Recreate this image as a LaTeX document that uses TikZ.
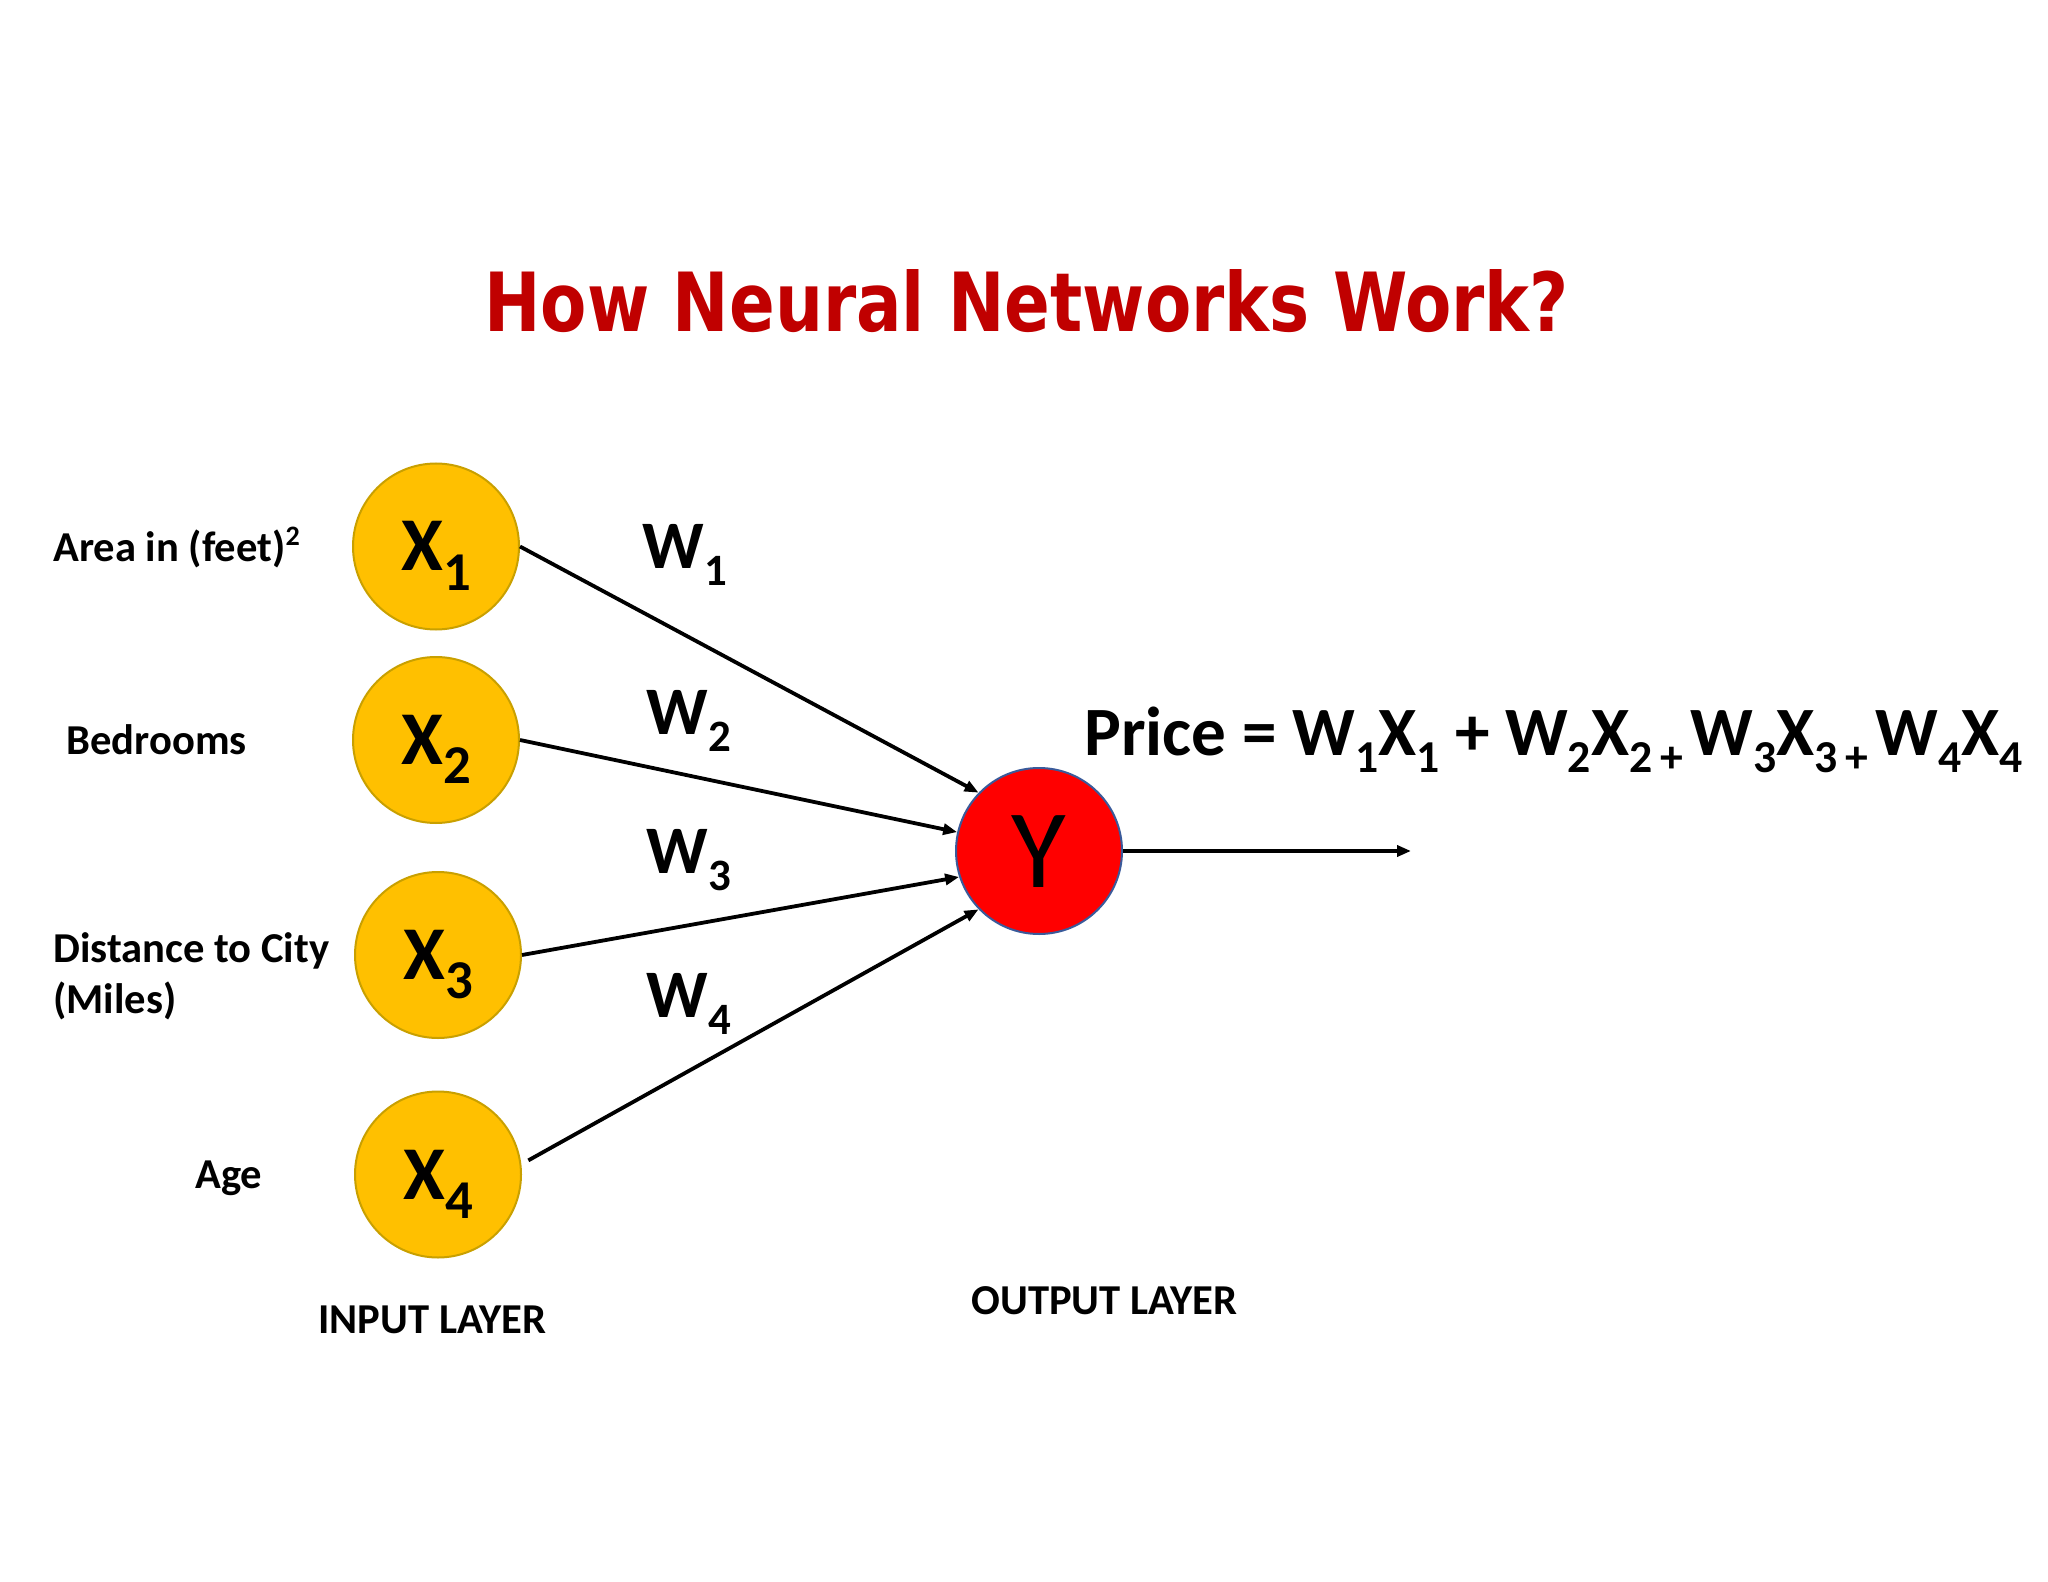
\documentclass[tikz,border=0pt]{standalone}
\usepackage{fontspec}
\setmainfont{Carlito}
\newfontfamily\titlefont{DejaVu Sans}
\usetikzlibrary{arrows.meta}
\definecolor{gold}{HTML}{FFC000}
\definecolor{goldline}{HTML}{C9A000}
\definecolor{titlered}{HTML}{C00000}
\definecolor{ybord}{HTML}{3A5A9A}
\newcommand\sbs[2][0.66]{\raisebox{-0.25em}{\scalebox{#1}{#2}}}
\begin{document}
\begin{tikzpicture}[x=0.5pt,y=-0.5pt,
  inp/.style={circle, fill=gold, draw=goldline, line width=1pt, minimum size=83pt, inner sep=0pt,
    font=\bfseries\fontsize{38}{38}\selectfont, text height=24.5pt, text depth=0pt},
  outp/.style={circle, fill=red, draw=ybord, line width=1pt, minimum size=83pt, inner sep=0pt,
    font=\fontsize{56}{56}\selectfont, text height=36pt, text depth=0pt},
  conn/.style={line width=1.9pt, -{Triangle[length=7pt,width=5.5pt]}},
  lab/.style={font=\bfseries\fontsize{21.3}{25}\selectfont, anchor=base west, inner sep=0pt},
  wlab/.style={font=\bfseries\fontsize{34}{34}\selectfont, anchor=base west, inner sep=0pt},
]
\fill[white] (0,0) rectangle (2048,1582);
\useasboundingbox (0,0) rectangle (2048,1582);

% title
\node[anchor=base west, inner sep=0pt, text=titlered] (title) at (484,332)
  {\resizebox{542pt}{31pt}{\titlefont\bfseries How Neural Networks Work?}};

% input nodes
\node[inp] (x1) at (436,546.5) {X\sbs[0.72]{1}};
\node[inp] (x2) at (436,740) {X\sbs[0.72]{2}};
\node[inp] (x3) at (438,955) {X\sbs[0.72]{3}};
\node[inp] (x4) at (438,1174.5) {X\sbs[0.72]{4}};

% output node
\node[outp] (y) at (1039,851) {Y};
\coordinate (out) at (1411,851);

% connectors
\draw[conn] (x1.east) -- (y.136);
\draw[conn] (x2.east) -- (y.167);
\draw[conn] (x3.east) -- (y.198);
\draw[conn, shorten <=4pt] (x4.7) -- (y.224);
\draw[conn] (y.east) -- (out);

% weights
\node[wlab] (w1) at (642,568.5) {W\sbs{1}};
\node[wlab] (w2) at (646,734) {W\sbs{2}};
\node[wlab] (w3) at (646,873) {W\sbs{3}};
\node[wlab] (w4) at (646,1017.5) {W\sbs{4}};

% input labels
\node[lab] (l1) at (53,561) {Area in (feet)\raisebox{0.36em}{\scalebox{0.66}{2}}};
\node[lab] (l2) at (66,754) {Bedrooms};
\node[lab] (l3) at (53,962) {Distance to City};
\node[lab] (l3b) at (53,1013) {(Miles)};
\node[lab] (l4) at (195,1188) {Age};

% layer labels
\node[lab] (inlayer) at (318,1333) {INPUT LAYER};
\node[lab] (outlayer) at (971,1314) {OUTPUT LAYER};

% equation
\node[wlab, font=\bfseries\fontsize{34.6}{34.6}\selectfont] (eq) at (1084,755)
  {Price = W\sbs{1}X\sbs{1} + W\sbs{2}X\sbs{2}\sbs{\,+\,}W\sbs{3}X\sbs{3}\sbs{\,+\,}W\sbs{4}X\sbs{4}};
\end{tikzpicture}
\end{document}
